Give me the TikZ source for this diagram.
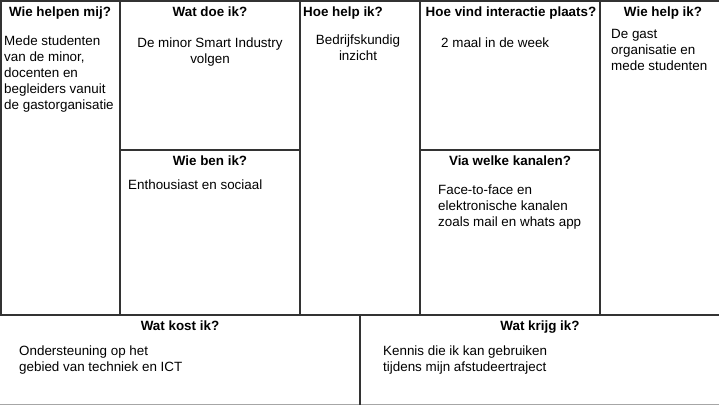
\documentclass[tikz,border=0pt]{standalone}
\usepackage{fontspec}
\setmainfont{Liberation Sans}
\begin{document}
\begin{tikzpicture}[x=1pt,y=-1pt,
  grid/.style={draw=black!80,line width=1.6pt},
  head/.style={font=\fontsize{13.4}{16}\selectfont\bfseries,inner sep=0,anchor=base},
  body/.style={font=\fontsize{13.4}{16}\selectfont,inner sep=0,align=left,anchor=north west},
  bodyc/.style={font=\fontsize{13.4}{16}\selectfont,inner sep=0,align=center,anchor=north}]
\useasboundingbox[fill=white] (0,0) rectangle (719,405);
% grid
\coordinate (tl) at (1,1);
\coordinate (tr) at (719,1);
\draw[grid] (tl) -- (tr);
\draw[grid] (1,0) -- (1,315);
\draw[grid] (0,315) -- (719,315);
\draw[draw=black!35,line width=1pt] (0,404.5) -- (719,404.5);
\draw[grid] (120,0) -- (120,315);
\draw[grid] (300,0) -- (300,315);
\draw[grid] (420,0) -- (420,315);
\draw[grid] (600,0) -- (600,315);
\draw[grid] (120,150) -- (300,150);
\draw[grid] (420,150) -- (600,150);
\draw[grid] (360,315) -- (360,405);
% headings
\node[head] (h1) at (60,16) {Wie helpen mij?};
\node[head] (h2) at (210,16) {Wat doe ik?};
\node[head,anchor=base west] (h3) at (303,16) {Hoe help ik?};
\node[head] (h4) at (511,16) {Hoe vind interactie plaats?};
\node[head] (h5) at (663,16) {Wie help ik?};
\node[head] (h6) at (210,165) {Wie ben ik?};
\node[head] (h7) at (510,165) {Via welke kanalen?};
\node[head] (h8) at (180,330) {Wat kost ik?};
\node[head] (h9) at (540,330) {Wat krijg ik?};
% bodies
\node[body] (t1) at (4,36) {Mede studenten\\van de minor,\\docenten en\\begleiders vanuit\\de gastorganisatie};
\node[bodyc] (t2) at (210,38) {De minor Smart Industry\\volgen};
\node[bodyc] (t3) at (358,35) {Bedrijfskundig\\inzicht};
\node[body] (t4) at (441,38) {2 maal in de week};
\node[body] (t5) at (611,29) {De gast\\organisatie en\\mede studenten};
\node[body] (t6) at (128,180) {Enthousiast en sociaal};
\node[body] (t7) at (438,185) {Face-to-face en\\elektronische kanalen\\zoals mail en whats app};
\node[body] (t8) at (19,346) {Ondersteuning op het\\gebied van techniek en ICT};
\node[body] (t9) at (383,346) {Kennis die ik kan gebruiken\\tijdens mijn afstudeertraject};
\end{tikzpicture}
\end{document}
